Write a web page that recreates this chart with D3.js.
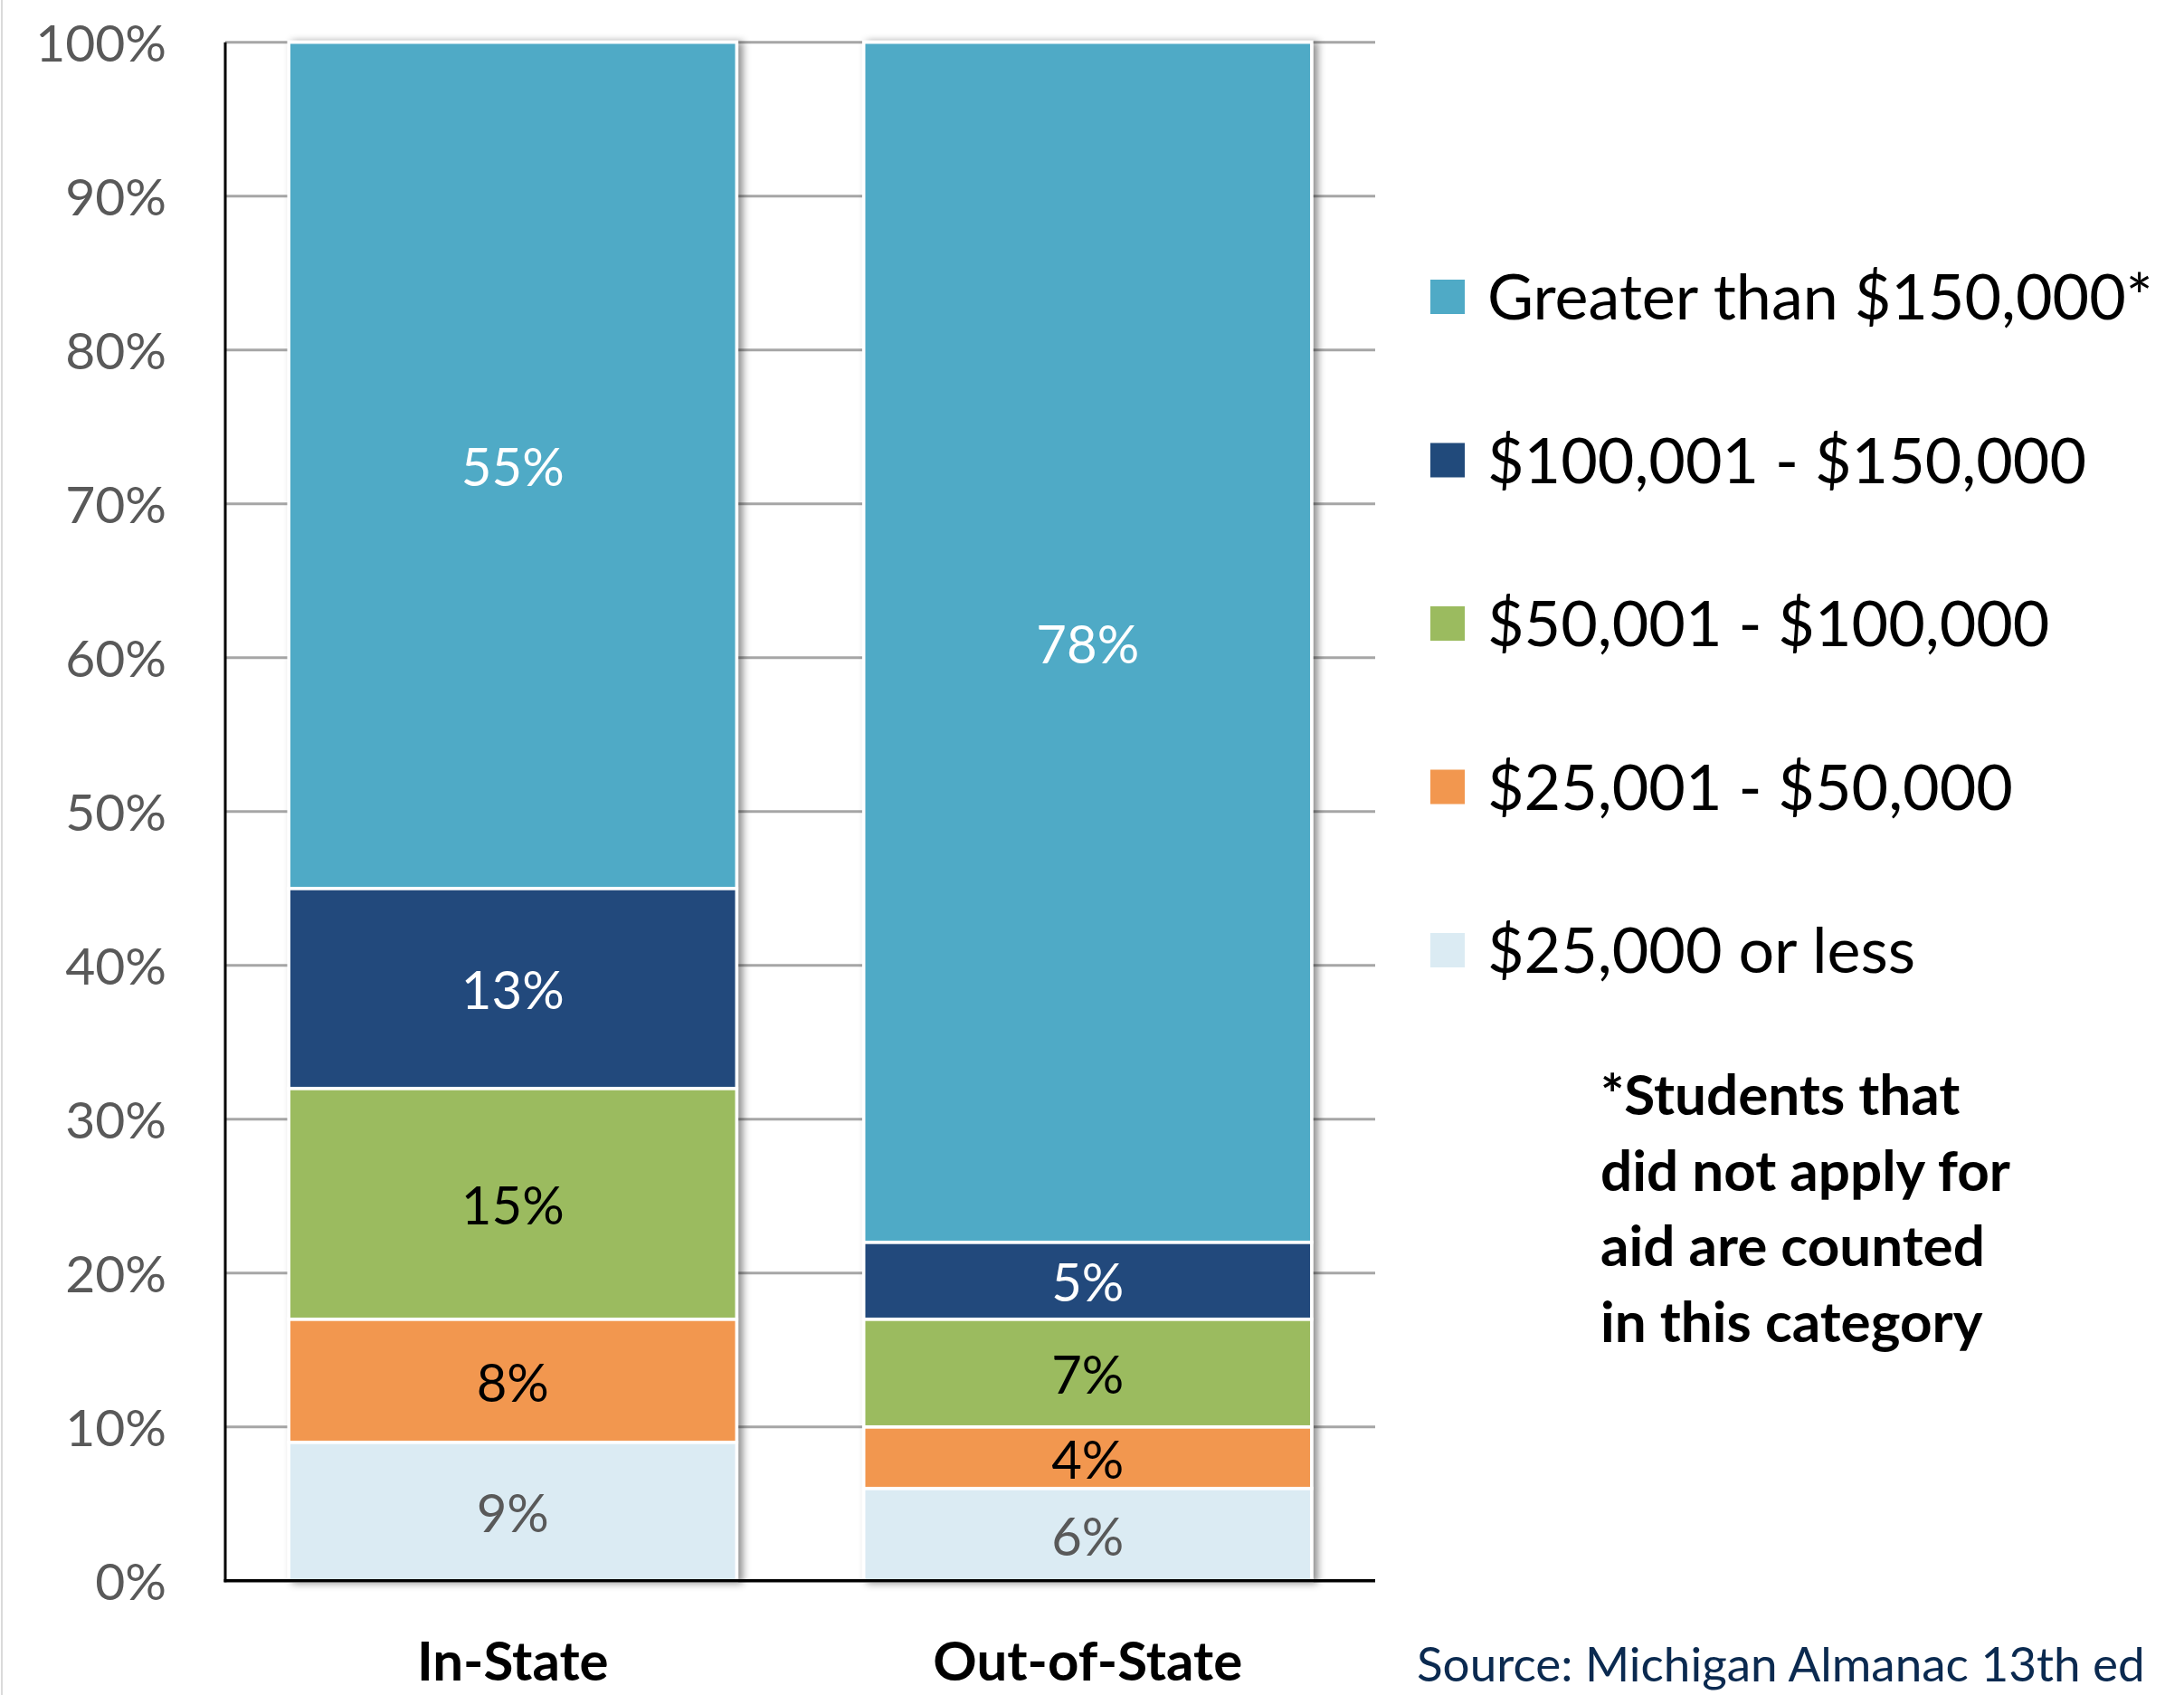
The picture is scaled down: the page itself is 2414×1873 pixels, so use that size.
<!DOCTYPE html>
<html>
<head>
<meta charset="utf-8">
<script src="https://cdn.jsdelivr.net/npm/d3@7"></script>
<style>
html,body{margin:0;padding:0;background:#fff;}
svg{display:block;}
text{font-family:Lato, "Open Sans", sans-serif;}
</style>
</head>
<body>
<svg id="chart" width="2414" height="1873"></svg>
<script>
const categories = ["In-State", "Out-of-State"];
const seriesNames = ["$25,000 or less", "$25,001 - $50,000", "$50,001 - $100,000", "$100,001 - $150,000", "Greater than $150,000*"];
const inStateValues = [9, 8, 15, 13, 55];
const outOfStateValues = [6, 4, 7, 5, 78];
const seriesColors = ["#DBEBF3", "#F2974F", "#9BBB5F", "#214A7B", "#4FAAC6"];
const labelColors = ["#595959", "#000000", "#000000", "#FFFFFF", "#FFFFFF"];
const yTickValues = [0, 10, 20, 30, 40, 50, 60, 70, 80, 90, 100];
const footnoteLines = ["*Students that", "did not apply for", "aid are counted", "in this category"];
const sourceText = "Source: Michigan Almanac 13th ed";

(function () {
const rows = categories.map((c, i) => {
  const vals = i === 0 ? inStateValues : outOfStateValues;
  const r = {category: c};
  seriesNames.forEach((s, j) => r[s] = vals[j]);
  return r;
});

const svg = d3.select("#chart");
const pLeft = 249, pRight = 1520, pTop = 46.7, pBottom = 1746.7;

const x = d3.scaleBand().domain(categories).range([pLeft, pRight]).paddingInner(0.221).paddingOuter(0.1105);
const y = d3.scaleLinear().domain([0, 100]).range([pBottom, pTop]);

const defs = svg.append("defs");
const f = defs.append("filter").attr("id", "shadow").attr("x", "-10%").attr("y", "-5%").attr("width", "130%").attr("height", "110%");
f.append("feDropShadow").attr("dx", 5).attr("dy", 1).attr("stdDeviation", 4).attr("flood-color", "#000").attr("flood-opacity", 0.45);

// faint left border
svg.append("line").attr("x1", 2).attr("x2", 2).attr("y1", 0).attr("y2", 1873).attr("stroke", "#DADADA").attr("stroke-width", 2);

// gridlines
svg.append("g").selectAll("line").data(yTickValues.filter(v => v > 0)).join("line")
  .attr("x1", pLeft).attr("x2", pRight)
  .attr("y1", d => y(d)).attr("y2", d => y(d))
  .attr("stroke", "#A6A6A6").attr("stroke-width", 3);

// y tick labels via axis
const yAxis = d3.axisLeft(y).tickValues(yTickValues).tickFormat(d => d + "%").tickSize(0).tickPadding(0);
const yg = svg.append("g").attr("transform", `translate(184,0)`).call(yAxis);
yg.select(".domain").remove();
yg.selectAll("text").attr("font-size", 57).attr("fill", "#595959").attr("font-family", "Lato, sans-serif").attr("dy", "0.36em");

// stacked bars
const stack = d3.stack().keys(seriesNames)(rows);
const barGroups = svg.append("g").selectAll("g.cat").data(categories).join("g").attr("class", "cat").attr("filter", "url(#shadow)");
barGroups.each(function(cat, ci) {
  const g = d3.select(this);
  stack.forEach((layer, si) => {
    const d = layer[ci];
    g.append("rect")
      .attr("x", x(cat)).attr("width", x.bandwidth())
      .attr("y", y(d[1])).attr("height", y(d[0]) - y(d[1]))
      .attr("fill", seriesColors[si])
      .attr("stroke", "#FFFFFF").attr("stroke-width", 3.5);
  });
});

// data labels
stack.forEach((layer, si) => {
  svg.append("g").selectAll("text").data(layer).join("text")
    .attr("x", d => x(d.data.category) + x.bandwidth() / 2)
    .attr("y", d => y((d[0] + d[1]) / 2))
    .attr("dy", "0.4em")
    .attr("text-anchor", "middle")
    .attr("font-size", 58)
    .attr("fill", labelColors[si])
    .text(d => (d[1] - d[0]) + "%");
});

// axes lines
svg.append("line").attr("x1", pLeft).attr("x2", pLeft).attr("y1", pTop).attr("y2", pBottom + 1.5).attr("stroke", "#000").attr("stroke-width", 3);
svg.append("line").attr("x1", pLeft - 1.5).attr("x2", pRight).attr("y1", pBottom).attr("y2", pBottom).attr("stroke", "#000").attr("stroke-width", 3.5);

// x labels
const xAxis = d3.axisBottom(x).tickSize(0).tickPadding(0);
const xg = svg.append("g").attr("transform", `translate(0,1857)`).call(xAxis);
xg.select(".domain").remove();
xg.selectAll("text").attr("font-size", 60).attr("font-weight", "bold").attr("fill", "#000").attr("font-family", "Lato, sans-serif").attr("dy", 0);

// legend
const legendNames = seriesNames.slice().reverse();
const legendColors = seriesColors.slice().reverse();
const lg = svg.append("g").selectAll("g").data(legendNames).join("g")
  .attr("transform", (d, i) => `translate(1581,${328 + i * 180.5})`);
lg.append("rect").attr("x", 0).attr("y", -19).attr("width", 38).attr("height", 38).attr("fill", (d, i) => legendColors[i]);
lg.append("text").attr("x", 63).attr("y", 0).attr("dy", "0.36em").attr("font-size", 70).attr("fill", "#000").text(d => d);

// footnote
svg.append("g").selectAll("text").data(footnoteLines).join("text")
  .attr("x", 1769).attr("y", (d, i) => 1232 + i * 83.7)
  .attr("font-size", 62).attr("font-weight", "bold").attr("fill", "#000").text(d => d);

// source
svg.append("text").attr("x", 1566).attr("y", 1858).attr("font-size", 53).attr("fill", "#0B2A50").text(sourceText);
})();
</script>
</body>
</html>
